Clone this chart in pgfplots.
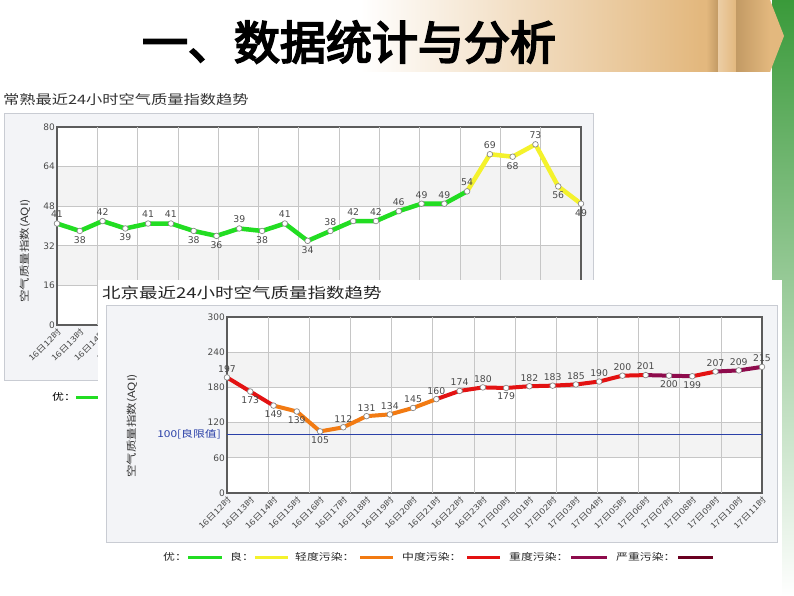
\documentclass[border=0pt]{standalone}
\usepackage{fontspec}
\setmainfont{DejaVu Sans}
\newfontfamily\cjk{Noto Sans CJK SC}[FakeStretch=1.25]
\newfontfamily\cjkt{Noto Sans CJK SC}[FakeBold=4]
\usepackage{pgfplots}
\usepackage{pgfplotstable}
\pgfplotsset{compat=1.18}

\definecolor{aqigreen}{HTML}{22DD22}
\definecolor{aqiyellow}{HTML}{F4F22C}
\definecolor{aqiorange}{HTML}{F27A12}
\definecolor{aqired}{HTML}{E31212}
\definecolor{aqipurple}{HTML}{8E0B4C}
\definecolor{aqimaroon}{HTML}{6A0020}
\definecolor{panelbg}{HTML}{F3F4F7}
\definecolor{panelborder}{HTML}{C9CCD3}
\definecolor{bandgray}{HTML}{F3F3F3}
\definecolor{gridgray}{HTML}{C6C6C6}
\definecolor{axisgray}{HTML}{5C5C5C}
\definecolor{labelgray}{HTML}{4A4A4A}
\definecolor{markgray}{HTML}{8A8A8A}
\definecolor{limitblue}{HTML}{2A40A8}
\definecolor{tanc}{HTML}{E3B87E}
\definecolor{tandk}{HTML}{C29A64}
\definecolor{slidegreen}{HTML}{3A9A3A}

\pgfplotstableread{
x y p
0 41 1
1 38 -1
2 42 1
3 39 -1
4 41 1
5 41 1
6 38 -1
7 36 -1
8 39 1
9 38 -1
10 41 1
11 34 -1
12 38 1
13 42 1
14 42 1
15 46 1
16 49 1
17 49 1
18 54 1
19 69 1
20 68 -1
21 73 1
22 56 -1
23 49 -1
}\csdata

\pgfplotstableread{
x y p
0 197 1
1 173 -1
2 149 -1
3 139 -1
4 105 -1
5 112 1
6 131 1
7 134 1
8 145 1
9 160 1
10 174 1
11 180 1
12 179 -1
13 182 1
14 183 1
15 185 1
16 190 1
17 200 1
18 201 1
19 200 -1
20 199 -1
21 207 1
22 209 1
23 215 1
}\bjdata

\pgfplotsset{
  /pgf/number format/assume math mode=true,
  aqi/.style={
    scale only axis, anchor=south west,
    xmin=0, xmax=23, enlargelimits=false, clip=false,
    axis line style={draw=axisgray, line width=1.2pt},
    xtick={0,...,23},
    xticklabels={16日12时,16日13时,16日14时,16日15时,16日16时,16日17时,16日18时,16日19时,16日20时,16日21时,16日22时,16日23时,17日00时,17日01时,17日02时,17日03时,17日04时,17日05时,17日06时,17日07时,17日08时,17日09时,17日10时,17日11时},
    x tick label style={rotate=45, anchor=north east, font=\cjk\fontsize{8}{8}\selectfont, text=labelgray, inner sep=1.5pt},
    y tick label style={font=\fontsize{9}{10}\selectfont, text=labelgray, inner sep=2pt},
    major tick length=0pt,
    ymajorgrids,
    major grid style={draw=gridgray, line width=0.7pt},
    extra x ticks={1.769,3.538,5.308,7.077,8.846,10.615,12.385,14.154,15.923,17.692,19.462,21.231},
    extra x tick labels={},
    extra x tick style={grid=major, major tick length=0pt},
  },
  seg/.style={line width=#1, line join=round, line cap=round},
  dots/.style={only marks, mark=*, mark size=2.8pt, mark options={fill=white, draw=markgray, line width=0.7pt}},
  lbls/.style={draw=none, nodes near coords, point meta=y,
    visualization depends on={\thisrow{p}\as\pp},
    every node near coord/.append style={anchor=center, yshift=\pp*#1, font=\fontsize{9.3}{10}\selectfont, text=labelgray, inner sep=0pt}},
}

\begin{document}
\begin{tikzpicture}[x=1pt,y=1pt]
% slide background
\fill[white] (0,0) rectangle (794,-596);
\shade[top color=slidegreen, middle color=slidegreen!45!white, bottom color=white] (772,0) rectangle (794,-596);
\shade[left color=white, right color=tanc] (360,0) rectangle (700,-72);
\fill[tanc] (700,0) -- (770,0) -- (784,-36) -- (770,-72) -- (700,-72) -- cycle;
\shade[left color=tanc, right color=tandk] (706,0) rectangle (718,-72);
\shade[left color=tanc!70!white, right color=tanc] (718,0) rectangle (736,-72);
\shade[left color=tandk, right color=tanc] (736,0) rectangle (770,-72);
\node[font=\cjkt\fontsize{46}{46}\selectfont, text=black] at (349,-42) {一、数据统计与分析};

% ---- Changshu panel ----
\node[anchor=west, font=\cjk\fontsize{13}{13}\selectfont, text=black!80, inner sep=0pt] at (3,-100) {常熟最近24小时空气质量指数趋势};
\draw[panelborder, fill=panelbg, line width=0.8pt] (4,-113) rectangle (593,-380);
\fill[white] (57,-127) rectangle (581,-325);
\fill[bandgray] (57,-166.6) rectangle (581,-206.2);
\fill[bandgray] (57,-245.8) rectangle (581,-285.4);
\node[rotate=90, font=\cjk\fontsize{10}{10}\selectfont, text=black!80] at (25,-251) {空气质量指数(AQI)};
\begin{axis}[aqi, at={(57pt,-325pt)}, width=524pt, height=198pt,
  ymin=0, ymax=80, ytick={0,16,...,80}]
\addplot[aqigreen, seg=4.5pt, restrict x to domain=0:18] table[x=x,y=y]{\csdata};
\addplot[aqiyellow, seg=4.5pt, restrict x to domain=18:23] table[x=x,y=y]{\csdata};
\addplot[dots] table[x=x,y=y]{\csdata};
\addplot[lbls=9pt] table[x=x,y=y]{\csdata};
\end{axis}
\node[anchor=west, font=\cjk\fontsize{9.5}{10}\selectfont, inner sep=0pt] at (52,-397) {优：};
\draw[aqigreen, line width=3pt] (76,-397) -- (104,-397);

% ---- Beijing panel ----
\fill[white] (98,-280) rectangle (782,-596);
\node[anchor=west, font=\cjk\fontsize{14.8}{15}\selectfont, text=black!85, inner sep=0pt] at (102,-293) {北京最近24小时空气质量指数趋势};
\draw[panelborder, fill=panelbg, line width=0.8pt] (106,-305) rectangle (777,-542);
\fill[white] (227,-317) rectangle (762,-493);
\fill[bandgray] (227,-352.2) rectangle (762,-387.4);
\fill[bandgray] (227,-422.6) rectangle (762,-457.8);
\node[rotate=90, font=\cjk\fontsize{10}{10}\selectfont, text=black!80] at (132,-426) {空气质量指数(AQI)};
\begin{axis}[aqi, at={(227pt,-493pt)}, width=535pt, height=176pt,
  ymin=0, ymax=300, ytick={0,60,...,300}]
\addplot[limitblue, line width=0.8pt] coordinates {(0,100) (23,100)};
\node[anchor=east, text=limitblue, font=\cjk\fontsize{9.5}{10}\selectfont, inner sep=0pt] at (axis cs:0,100) [xshift=-6pt] {100[良限值]};
\addplot[aqired, seg=4pt, restrict x to domain=0:2] table[x=x,y=y]{\bjdata};
\addplot[aqiorange, seg=4pt, restrict x to domain=2:9] table[x=x,y=y]{\bjdata};
\addplot[aqired, seg=4pt, restrict x to domain=9:18] table[x=x,y=y]{\bjdata};
\addplot[aqipurple, seg=4pt, restrict x to domain=18:20] table[x=x,y=y]{\bjdata};
\addplot[aqired, seg=4pt, restrict x to domain=20:21] table[x=x,y=y]{\bjdata};
\addplot[aqipurple, seg=4pt, restrict x to domain=21:23] table[x=x,y=y]{\bjdata};
\addplot[dots] table[x=x,y=y]{\bjdata};
\addplot[lbls=8.5pt] table[x=x,y=y]{\bjdata};
\end{axis}
% legend
\begin{scope}[every node/.style={anchor=west, font=\cjk\fontsize{9.5}{10}\selectfont, inner sep=0pt, text=black!85}]
\node at (163,-557) {优：};
\draw[aqigreen, line width=3pt] (188,-557) -- (222,-557);
\node at (230,-557) {良：};
\draw[aqiyellow, line width=3pt] (255,-557) -- (288,-557);
\node at (295,-557) {轻度污染：};
\draw[aqiorange, line width=3pt] (360,-557) -- (393,-557);
\node at (402,-557) {中度污染：};
\draw[aqired, line width=3pt] (467,-557) -- (500,-557);
\node at (509,-557) {重度污染：};
\draw[aqipurple, line width=3pt] (571,-557) -- (607,-557);
\node at (616,-557) {严重污染：};
\draw[aqimaroon, line width=3pt] (678,-557) -- (713,-557);
\end{scope}
\end{tikzpicture}
\end{document}
